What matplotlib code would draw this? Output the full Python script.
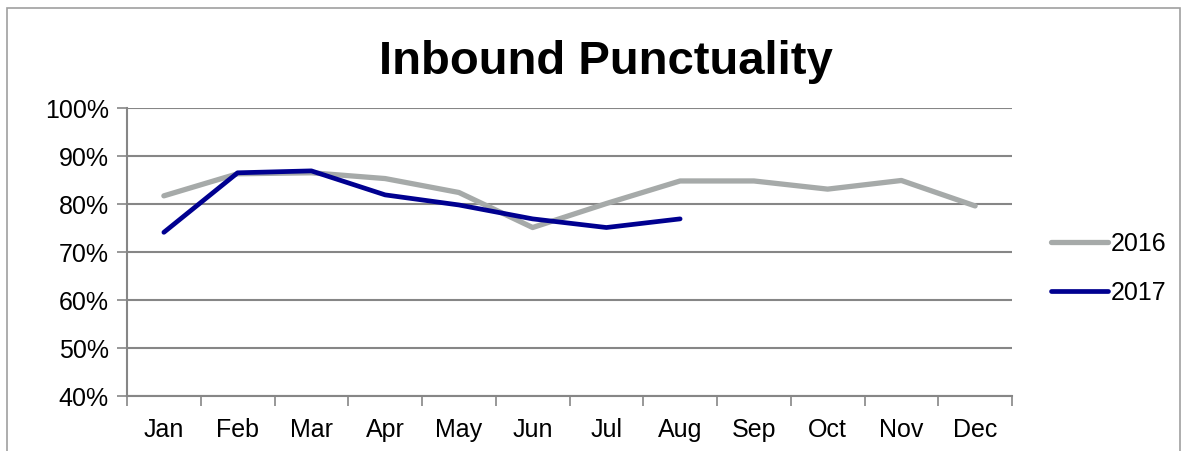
#!/usr/bin/env python3

import matplotlib.pyplot as plt
from matplotlib.patches import Rectangle

plt.rcParams['font.family'] = ['Liberation Sans', 'DejaVu Sans']

# monthly inbound punctuality, percent
months = ['Jan', 'Feb', 'Mar', 'Apr', 'May', 'Jun',
          'Jul', 'Aug', 'Sep', 'Oct', 'Nov', 'Dec']
p2016 = [81.7, 86.3, 86.5, 85.3, 82.4, 75.1, 80.1, 84.8, 84.8, 83.1, 84.9, 79.6]
p2017 = [74.1, 86.5, 86.9, 81.9, 79.8, 76.9, 75.1, 76.9]
yticks = [40, 50, 60, 70, 80, 90, 100]

grid_col = '#868686'

fig = plt.figure(figsize=(11.9, 4.52), dpi=100)
ax = fig.add_axes([127/1190, 55/452, 885/1190, 288/452])

# outer chart border
fig.patches.append(Rectangle((7/1190, -0.05), 1173/1190, 1.0 - 9/452 + 0.05,
                             transform=fig.transFigure, fill=False,
                             edgecolor='#a0a0a0', linewidth=1.2))

ax.plot(range(len(p2016)), p2016, color='#a6aaa9', linewidth=3.8,
        solid_capstyle='round', label='2016')
ax.plot(range(len(p2017)), p2017, color='#000090', linewidth=3.4,
        solid_capstyle='round', label='2017')

ax.set_xlim(-0.5, 11.5)
ax.set_ylim(40, 100)
ax.set_yticks(yticks)
ax.set_yticklabels([f'{v}%' for v in yticks])
ax.set_xticks(range(12))
ax.set_xticklabels(months)
ax.set_xticks([i - 0.5 for i in range(13)], minor=True)

ax.tick_params(axis='x', which='major', length=0, pad=15, labelsize=18)
ax.tick_params(axis='x', which='minor', length=7, width=1.2, color=grid_col,
               direction='out')
ax.tick_params(axis='y', length=7, width=1.2, color=grid_col, labelsize=18, pad=6)

ax.grid(axis='y', color=grid_col, linewidth=1.5)
ax.set_axisbelow(True)
for side in ['top', 'right']:
    ax.spines[side].set_visible(False)
for side in ['left', 'bottom']:
    ax.spines[side].set_color(grid_col)
    ax.spines[side].set_linewidth(1.5)

fig.text(606/1190, 1 - 62/452, 'Inbound Punctuality', ha='center', va='center',
         fontsize=34, fontweight='bold')

fig.legend(loc='center left', bbox_to_anchor=(1028/1190, 1 - 269/452),
           frameon=False, fontsize=18, handlelength=2.3, handletextpad=0.1,
           labelspacing=1.0)

fig.savefig('out.png', dpi=100)
